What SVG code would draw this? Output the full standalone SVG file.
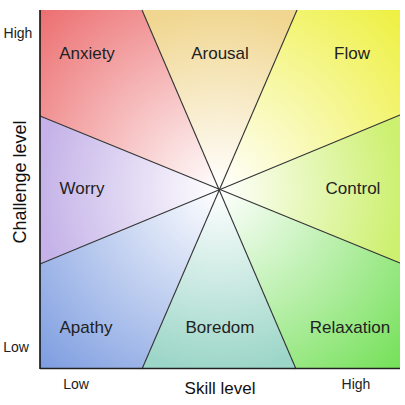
<svg xmlns="http://www.w3.org/2000/svg" width="405" height="405" viewBox="0 0 405 405">
<style>
.lbl{font-family:"Liberation Sans",Arial,sans-serif;font-size:17px;fill:#222;text-anchor:middle}
.ax{font-family:"Liberation Sans",Arial,sans-serif;font-size:14px;fill:#222;text-anchor:middle}
.title{font-family:"Liberation Sans",Arial,sans-serif;font-size:17px;fill:#111;text-anchor:middle}
.div{stroke:#333;stroke-width:1.1;fill:none}
</style>
<defs>
<radialGradient id="gAnx" gradientUnits="userSpaceOnUse" cx="219.5" cy="189.5" r="254"><stop offset="0" stop-color="#fff"/><stop offset="1" stop-color="#ec6e70"/></radialGradient>
<radialGradient id="gAro" gradientUnits="userSpaceOnUse" cx="219.5" cy="189.5" r="182"><stop offset="0" stop-color="#fff"/><stop offset="1" stop-color="#f0d690"/></radialGradient>
<radialGradient id="gFlo" gradientUnits="userSpaceOnUse" cx="219.5" cy="189.5" r="254"><stop offset="0" stop-color="#fff"/><stop offset="1" stop-color="#eef040"/></radialGradient>
<radialGradient id="gCon" gradientUnits="userSpaceOnUse" cx="219.5" cy="189.5" r="182"><stop offset="0" stop-color="#fff"/><stop offset="1" stop-color="#cdf070"/></radialGradient>
<radialGradient id="gRel" gradientUnits="userSpaceOnUse" cx="219.5" cy="189.5" r="254"><stop offset="0" stop-color="#fff"/><stop offset="1" stop-color="#74e058"/></radialGradient>
<radialGradient id="gBor" gradientUnits="userSpaceOnUse" cx="219.5" cy="189.5" r="182"><stop offset="0" stop-color="#fff"/><stop offset="1" stop-color="#9cd6c8"/></radialGradient>
<radialGradient id="gApa" gradientUnits="userSpaceOnUse" cx="219.5" cy="189.5" r="254"><stop offset="0" stop-color="#fff"/><stop offset="1" stop-color="#7c9ce0"/></radialGradient>
<radialGradient id="gWor" gradientUnits="userSpaceOnUse" cx="219.5" cy="189.5" r="182"><stop offset="0" stop-color="#fff"/><stop offset="1" stop-color="#c4b2e8"/></radialGradient>
</defs>
<rect width="405" height="405" fill="#fff"/>
<g id="anxiety"><polygon points="219.5,189.5 40,116 40,10 142,10" fill="url(#gAnx)"/><text class="lbl" x="87" y="59">Anxiety</text></g>
<g id="arousal"><polygon points="219.5,189.5 142,10 297,10" fill="url(#gAro)"/><text class="lbl" x="220" y="59">Arousal</text></g>
<g id="flow"><polygon points="219.5,189.5 297,10 400,10 400,115" fill="url(#gFlo)"/><text class="lbl" x="352" y="59">Flow</text></g>
<g id="control"><polygon points="219.5,189.5 400,115 400,263" fill="url(#gCon)"/><text class="lbl" x="353" y="194">Control</text></g>
<g id="relaxation"><polygon points="219.5,189.5 400,263 400,369 296,369" fill="url(#gRel)"/><text class="lbl" x="350" y="333">Relaxation</text></g>
<g id="boredom"><polygon points="219.5,189.5 296,369 142,369" fill="url(#gBor)"/><text class="lbl" x="220" y="333">Boredom</text></g>
<g id="apathy"><polygon points="219.5,189.5 142,369 40,369 40,264" fill="url(#gApa)"/><text class="lbl" x="86" y="333">Apathy</text></g>
<g id="worry"><polygon points="219.5,189.5 40,264 40,116" fill="url(#gWor)"/><text class="lbl" x="82" y="194">Worry</text></g>
<g id="connectors">
<line class="div" x1="142" y1="10" x2="296" y2="369"/>
<line class="div" x1="297" y1="10" x2="142" y2="369"/>
<line class="div" x1="40" y1="116" x2="400" y2="263"/>
<line class="div" x1="40" y1="264" x2="400" y2="115"/>
<line x1="40" y1="10" x2="40" y2="369" stroke="#111" stroke-width="1.6"/>
<line x1="40" y1="368.5" x2="400" y2="368.5" stroke="#222" stroke-width="1.6"/>
</g>
<g id="axes">
<text class="ax" x="18" y="38">High</text>
<text class="ax" x="16" y="352">Low</text>
<text class="ax" x="76" y="389">Low</text>
<text class="ax" x="356" y="389">High</text>
<text class="title" x="220" y="394">Skill level</text>
<text class="title" style="font-size:18px" transform="translate(26,182) rotate(-90)">Challenge level</text>
</g>
</svg>
